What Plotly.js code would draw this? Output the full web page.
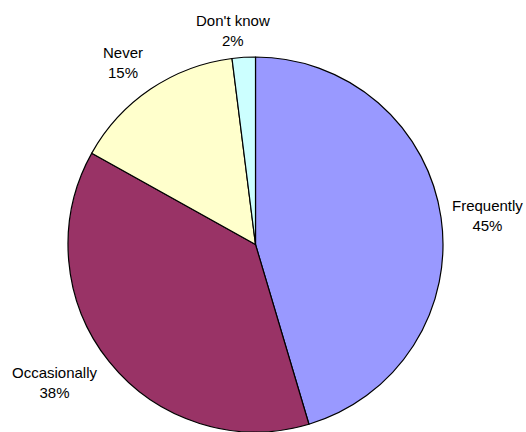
<!DOCTYPE html>
<html>
<head>
<meta charset="utf-8">
<script src="https://cdn.plot.ly/plotly-3.0.1.min.js"></script>
<style>html,body{margin:0;padding:0;background:#fff;}#chart{width:526px;height:432px;}</style>
</head>
<body>
<div id="chart"></div>
<script>
var categories = ["Frequently", "Occasionally", "Never", "Don't know"];
var values = [45.4, 37.7, 14.9, 2.0];
var sliceColors = ["#9999FF", "#993366", "#FFFFCC", "#CCFFFF"];
// label placement (paper coordinates) for each category's data label
var labelX = [0.9259, 0.1046, 0.2338, 0.4430];
var labelY = [0.5012, 0.1146, 0.8542, 0.9294];

var total = values.reduce(function (a, b) { return a + b; }, 0);
var fontFamily = 'Liberation Sans, Arial, sans-serif';

var trace = {
  type: 'pie',
  labels: categories,
  values: values,
  sort: false,
  direction: 'clockwise',
  rotation: 0,
  marker: {colors: sliceColors, line: {color: '#000000', width: 1.2}},
  textinfo: 'none',
  hoverinfo: 'none',
  domain: {x: [0.1283, 0.8432], y: [0, 0.868]}
};

var annotations = categories.map(function (c, i) {
  return {
    xref: 'paper', yref: 'paper',
    x: labelX[i], y: labelY[i],
    xanchor: 'center', yanchor: 'middle',
    showarrow: false,
    align: 'center',
    text: c + '<br>' + Math.round(values[i] / total * 100) + '%',
    font: {family: fontFamily, size: 15, color: '#000000'}
  };
});

var layout = {
  width: 526, height: 432,
  margin: {l: 0, r: 0, t: 0, b: 0},
  paper_bgcolor: '#ffffff',
  showlegend: false,
  font: {family: fontFamily},
  annotations: annotations
};

Plotly.newPlot('chart', [trace], layout, {staticPlot: true});
</script>
</body>
</html>
